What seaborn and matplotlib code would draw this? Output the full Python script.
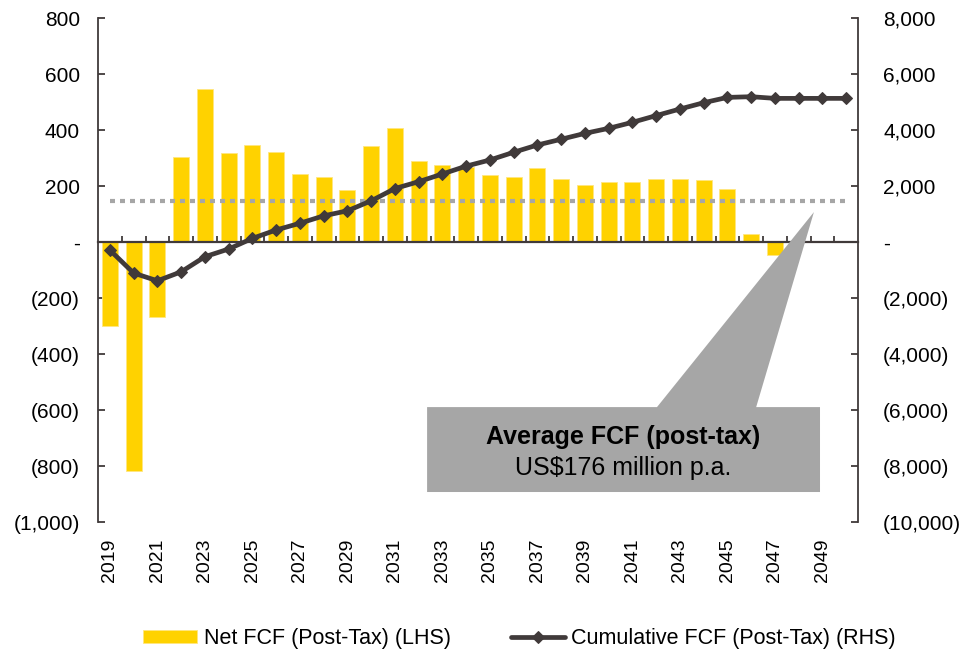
import matplotlib
matplotlib.use('Agg')
import matplotlib.pyplot as plt
import matplotlib.ticker as mticker
from matplotlib.patches import Polygon
import numpy as np
import pandas as pd
import seaborn as sns

# Data (US$ million)
YEARS = list(range(2019, 2051))
NET_FCF = [-300, -817, -267, 305, 548, 318, 345, 320, 243, 231, 184, 343, 407, 289, 276, 269,
           238, 231, 264, 226, 203, 215, 215, 224, 225, 221, 189, 30, -46, 0, 0, 0]
CUM_FCF = [-290, -1110, -1385, -1065, -525, -250, 130, 430, 670, 935, 1115, 1470, 1910, 2155,
           2430, 2710, 2930, 3205, 3465, 3670, 3880, 4060, 4275, 4515, 4750, 4975, 5165, 5190,
           5130, 5130, 5130, 5130]
AVG_LINE = 148
NET_LABEL = 'Net FCF (Post-Tax) (LHS)'
CUM_LABEL = 'Cumulative FCF (Post-Tax) (RHS)'
BOX_TITLE = 'Average FCF (post-tax)'
BOX_TEXT = 'US$176 million p.a.'

# Styling
GOLD = '#FFD200'
DARK = '#403A3A'
GREY = '#A6A6A6'
FONT = 'Liberation Sans'


def paren_fmt(v, pos=None):
    """Excel accounting style: 1,000 / (1,000) / -"""
    if abs(v) < 1e-9:
        return '-'
    if v < 0:
        return f'({abs(v):,.0f})'
    return f'{v:,.0f}'


def main() -> None:
    sns.set_theme(style='white')
    plt.rcParams['font.family'] = [FONT, 'DejaVu Sans']
    plt.rcParams['font.size'] = 15
    plt.rcParams['text.color'] = 'black'

    df = pd.DataFrame({'year': YEARS, 'net': NET_FCF, 'cum': CUM_FCF})

    fig = plt.figure(figsize=(9.62, 6.53), dpi=100)
    ax = fig.add_axes([0.1019, 0.2006, 0.79, 0.7718])
    ax2 = ax.twinx()
    ax.set_zorder(1)
    ax2.set_zorder(2)
    ax.patch.set_visible(False)

    # bars (LHS)
    sns.barplot(data=df, x='year', y='net', ax=ax, native_scale=True, width=0.67,
                color=GOLD, saturation=1, edgecolor='#FFE680', linewidth=0.6, label=NET_LABEL)
    ax.hlines(AVG_LINE, YEARS[0], YEARS[-1], colors=GREY, linestyles=(0, (1.2, 1.2)), linewidth=3)

    # cumulative line (RHS)
    sns.lineplot(data=df, x='year', y='cum', ax=ax2, color=DARK, linewidth=3.4, marker='D',
                 markersize=6.5, markeredgecolor=DARK, label=CUM_LABEL, legend=False)

    ax.set_xlim(YEARS[0] - 0.5, YEARS[-1] + 0.5)
    ax.set_ylim(-1000, 800)
    ax2.set_ylim(-10000, 8000)
    ax.set_yticks(np.arange(-1000, 801, 200))
    ax2.set_yticks(np.arange(-10000, 8001, 2000))
    ax.yaxis.set_major_formatter(mticker.FuncFormatter(paren_fmt))
    ax2.yaxis.set_major_formatter(mticker.FuncFormatter(paren_fmt))
    ax.set_xlabel('')
    ax.set_ylabel('')
    ax2.set_xlabel('')
    ax2.set_ylabel('')

    # spines
    for a in (ax, ax2):
        a.spines['top'].set_visible(False)
    ax.spines['right'].set_visible(False)
    ax2.spines['left'].set_visible(False)
    ax2.spines['bottom'].set_visible(False)
    ax.spines['left'].set_color(DARK)
    ax.spines['left'].set_linewidth(1.3)
    ax2.spines['right'].set_color(DARK)
    ax2.spines['right'].set_linewidth(1.3)
    ax.spines['bottom'].set_position(('data', 0))
    ax.spines['bottom'].set_color(DARK)
    ax.spines['bottom'].set_linewidth(1.6)

    # category boundary ticks on the zero line
    ax.set_xticks([y + 0.5 for y in YEARS[:-1]])
    ax.tick_params(axis='x', direction='in', length=4, width=1.3, color=DARK, labelbottom=False, bottom=True)
    ax.tick_params(axis='y', direction='in', length=5, width=1.3, color=DARK, pad=13,
                   labelsize=15, labelcolor='black', left=True)
    ax2.tick_params(axis='y', direction='in', length=5, width=1.3, color=DARK, pad=18,
                    labelsize=15, labelcolor='black', right=True)
    ax2.tick_params(axis='x', bottom=False, labelbottom=False)

    # year labels at the bottom of the plot area
    sec = ax.secondary_xaxis('bottom')
    sec.set_xticks(YEARS[::2])
    sec.set_xticklabels([str(y) for y in YEARS[::2]], rotation=90)
    sec.tick_params(length=0, pad=12, labelsize=14, labelcolor='black')
    sec.spines['bottom'].set_visible(False)

    # callout box
    callout = Polygon([(0.433, 0.0595), (0.950, 0.0595), (0.950, 0.228), (0.866, 0.228),
                       (0.942, 0.615), (0.7355, 0.228), (0.433, 0.228)],
                      closed=True, transform=ax2.transAxes, facecolor=GREY, edgecolor='none', zorder=5)
    ax2.add_patch(callout)
    ax2.text(0.6915, 0.168, BOX_TITLE, transform=ax2.transAxes, ha='center', va='center',
             fontsize=18, fontweight='bold', color='black', zorder=6)
    ax2.text(0.6915, 0.108, BOX_TEXT, transform=ax2.transAxes, ha='center', va='center',
             fontsize=18, color='black', zorder=6)

    # legend
    h1, l1 = ax.get_legend_handles_labels()
    h2, l2 = ax2.get_legend_handles_labels()
    if ax.get_legend() is not None:
        ax.get_legend().remove()
    fig.legend(h1 + h2, l1 + l2, loc='center', bbox_to_anchor=(0.54, 0.022), ncol=2, frameon=False,
               fontsize=15.5, labelcolor='black', handlelength=2.5, handletextpad=0.3,
               columnspacing=2.8, handleheight=0.6)

    fig.savefig('out.png', dpi=100)


if __name__ == '__main__':
    main()
